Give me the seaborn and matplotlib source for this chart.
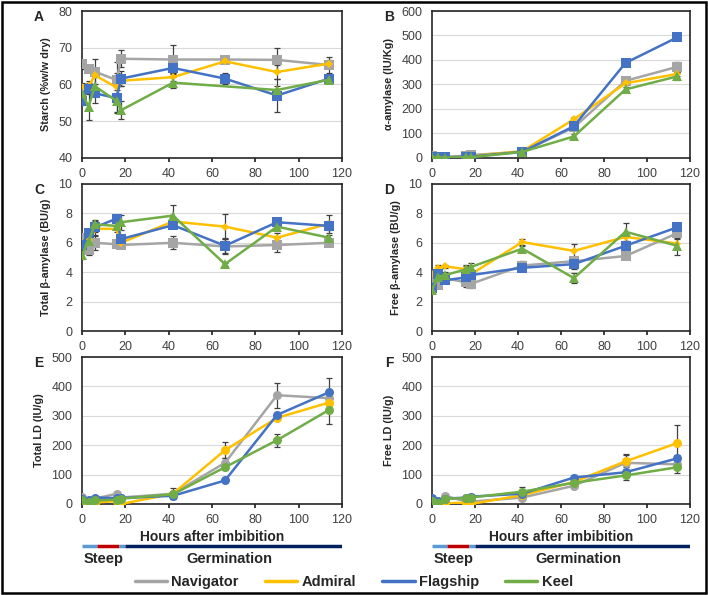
import numpy as np
import pandas as pd
import matplotlib
matplotlib.use('Agg')
import matplotlib.pyplot as plt
from matplotlib.lines import Line2D
from matplotlib.patches import Rectangle
import seaborn as sns

# ---------- DATA ----------
hours = [0, 3, 6, 16, 18, 42, 66, 90, 114]
varieties = ['Navigator', 'Admiral', 'Flagship', 'Keel']
nan = np.nan

starch_mean = {
    'Navigator': [65.5, 64.3, 63.5, 61.2, 67.0, 66.8, 66.8, 66.7, 65.3],
    'Admiral':   [59.3, 59.5, 62.5, 59.2, 61.0, 62.0, 66.3, 63.4, 65.7],
    'Flagship':  [55.5, 58.8, 57.6, 56.3, 61.6, 64.5, 61.6, 57.0, 61.6],
    'Keel':      [57.7, 54.0, 59.5, 55.5, 53.0, 60.5, nan, 58.5, 61.3],
}
starch_err = {
    'Navigator': [1.2, 0.8, 1.0, 5.0, 2.3, 4.0, 0.8, 3.3, 2.2],
    'Admiral':   [1.0, 1.5, 4.5, 4.0, 1.5, 1.0, 0.5, 2.0, 1.0],
    'Flagship':  [1.0, 1.5, 2.5, 4.0, 2.0, 1.5, 1.5, 4.5, 1.0],
    'Keel':      [2.0, 3.7, 2.5, 3.0, 2.5, 1.5, nan, 1.0, 0.5],
}
aamy_mean = {
    'Navigator': [8, 6, 4, 10, 12, 25, 125, 315, 372],
    'Admiral':   [5, 4, 3, 5, 8, 28, 158, 305, 343],
    'Flagship':  [5, 4, 3, 5, 6, 25, 130, 388, 492],
    'Keel':      [4, 3, 2, 3, 3, 25, 88, 280, 333],
}
aamy_err = {
    'Navigator': [2, 2, 2, 2, 2, 3, 8, 10, 20],
    'Admiral':   [1, 1, 1, 1, 1, 3, 8, 8, 10],
    'Flagship':  [1, 1, 1, 1, 1, 3, 5, 8, 8],
    'Keel':      [1, 1, 1, 1, 1, 3, 10, 8, 15],
}
tbamy_mean = {
    'Navigator': [6.3, 5.5, 6.0, 5.9, 5.85, 6.0, 5.75, 5.85, 6.0],
    'Admiral':   [6.0, 6.2, 6.95, 6.95, 6.0, 7.45, 7.1, 6.35, 7.3],
    'Flagship':  [5.85, 6.7, 7.05, 7.65, 6.25, 7.2, 5.8, 7.4, 7.15],
    'Keel':      [5.2, 6.1, 7.25, 7.15, 7.4, 7.85, 4.55, 7.1, 6.35],
}
tbamy_err = {
    'Navigator': [0.3, 0.3, 0.5, 0.2, 0.2, 0.45, 0.5, 0.45, 0.2],
    'Admiral':   [0.2, 0.3, 0.5, 0.2, 0.2, 0.3, 0.85, 0.3, 0.6],
    'Flagship':  [0.3, 0.2, 0.3, 0.2, 0.3, 0.2, 0.5, 0.2, 0.3],
    'Keel':      [0.3, 0.3, 0.3, 0.3, 0.5, 0.7, 0.1, 0.3, 0.2],
}
fbamy_mean = {
    'Navigator': [3.3, 3.1, 3.6, 3.3, 3.2, 4.45, 4.75, 5.1, 6.65],
    'Admiral':   [3.9, 4.3, 4.4, 4.2, 3.85, 6.05, 5.45, 6.4, 5.95],
    'Flagship':  [2.9, 3.9, 3.45, 3.65, 3.8, 4.3, 4.55, 5.8, 7.05],
    'Keel':      [2.8, 3.7, 3.8, 4.2, 4.35, 5.6, 3.6, 6.75, 5.8],
}
fbamy_err = {
    'Navigator': [0.3, 0.2, 0.3, 0.3, 0.3, 0.3, 0.3, 0.1, 0.3],
    'Admiral':   [0.2, 0.2, 0.1, 0.2, 0.2, 0.2, 0.5, 0.3, 0.3],
    'Flagship':  [0.2, 0.2, 0.2, 0.2, 0.2, 0.2, 0.3, 0.2, 0.2],
    'Keel':      [0.2, 0.2, 0.2, 0.3, 0.3, 0.2, 0.35, 0.6, 0.6],
}
tld_mean = {
    'Navigator': [25, 10, 18, 35, 22, 35, 140, 370, 360],
    'Admiral':   [10, 0, 5, 10, 0, 35, 183, 293, 345],
    'Flagship':  [18, 12, 22, 20, 20, 28, 80, 303, 380],
    'Keel':      [15, 8, 12, 15, 18, 33, 125, 217, 320],
}
tld_err = {
    'Navigator': [5, 5, 5, 5, 5, 18, 15, 42, 10],
    'Admiral':   [3, 3, 3, 3, 3, 5, 28, 5, 10],
    'Flagship':  [3, 3, 3, 3, 3, 3, 5, 5, 48],
    'Keel':      [3, 3, 3, 3, 3, 5, 10, 22, 48],
}
fld_mean = {
    'Navigator': [12, 2, 28, 8, 8, 22, 62, 140, 135],
    'Admiral':   [10, 2, 2, 5, 0, 30, 75, 145, 207],
    'Flagship':  [22, 10, 18, 22, 25, 35, 90, 108, 155],
    'Keel':      [10, 5, 18, 20, 22, 42, 72, 97, 125],
}
fld_err = {
    'Navigator': [5, 5, 5, 5, 5, 5, 5, 30, 10],
    'Admiral':   [3, 3, 3, 3, 3, 5, 5, 20, 62],
    'Flagship':  [5, 5, 5, 10, 10, 5, 8, 8, 10],
    'Keel':      [3, 3, 3, 3, 3, 15, 5, 17, 20],
}

# steeping / germination phases (start hour, end hour, colour)
phases = [(0, 7, '#5B9BD5'), (7, 17, '#C00000'), (17, 20, '#5B9BD5'), (20, 120, '#002060')]

# ---------- STYLE ----------
sns.set_theme(style='white')
plt.rcParams['font.family'] = ['Liberation Sans Narrow', 'Liberation Sans', 'DejaVu Sans']
colors = {'Navigator': '#A5A5A5', 'Admiral': '#FFC000', 'Flagship': '#4472C4', 'Keel': '#70AD47'}
sq_markers = {'Navigator': 's', 'Admiral': 'D', 'Flagship': 's', 'Keel': '^'}
sq_sizes = {'Navigator': 6.5, 'Admiral': 4.5, 'Flagship': 6.5, 'Keel': 6.5}
circ_markers = {v: 'o' for v in varieties}
circ_sizes = {v: 6.5 for v in varieties}

panels = [
    ('A', starch_mean, starch_err, 'Starch (%w/w dry)', (40, 80), 10, sq_markers, sq_sizes),
    ('B', aamy_mean, aamy_err, 'α-amylase (IU/Kg)', (0, 600), 100, sq_markers, sq_sizes),
    ('C', tbamy_mean, tbamy_err, 'Total β-amylase (BU/g)', (0, 10), 2, sq_markers, sq_sizes),
    ('D', fbamy_mean, fbamy_err, 'Free β-amylase (BU/g)', (0, 10), 2, sq_markers, sq_sizes),
    ('E', tld_mean, tld_err, 'Total LD (IU/g)', (0, 500), 100, circ_markers, circ_sizes),
    ('F', fld_mean, fld_err, 'Free LD (IU/g)', (0, 500), 100, circ_markers, circ_sizes),
]

W, H = 708, 595
fig = plt.figure(figsize=(W / 100, H / 100), dpi=100)

col_left = [82, 432]
col_width = [260, 258]
row_top = [11, 184, 357]
row_h = 147

for i, (letter, means, errs, ylabel, ylim, ystep, markers, msizes) in enumerate(panels):
    r, c = divmod(i, 2)
    ax = fig.add_axes([col_left[c] / W, 1 - (row_top[r] + row_h) / H, col_width[c] / W, row_h / H])
    for v in varieties:
        df = pd.DataFrame({'hours': hours, 'value': means[v], 'err': errs[v]}).dropna()
        ax.errorbar(df['hours'], df['value'], yerr=df['err'], fmt='none',
                    ecolor='#404040', elinewidth=0.9, capsize=2.5, capthick=0.9, zorder=2)
        sns.lineplot(data=df, x='hours', y='value', color=colors[v], marker=markers[v],
                     markersize=msizes[v], markeredgewidth=0, linewidth=1.8, ax=ax, zorder=3)
    ax.set_xlim(0, 120)
    ax.set_ylim(*ylim)
    ax.set_xticks(range(0, 121, 20))
    ax.set_yticks(np.arange(ylim[0], ylim[1] + 0.01, ystep))
    ax.grid(axis='y', color='#D9D9D9', linewidth=0.8)
    ax.set_axisbelow(True)
    for s in ax.spines.values():
        s.set_color('#262626')
        s.set_linewidth(1.2)
    ax.tick_params(labelsize=9, colors='#404040', length=3, left=False, bottom=True, pad=4)
    ax.tick_params(axis='x', direction='out', length=3, color='#262626')
    ax.set_ylabel(ylabel, fontsize=7.8, fontweight='bold', color='#262626', labelpad=5)
    ax.set_xlabel('')
    ax.text(-0.165, 1.01, letter, transform=ax.transAxes, fontsize=10, fontweight='bold',
            ha='center', va='top', color='#262626')
    if r == 2:
        ax.set_xlabel('Hours after imbibition', fontsize=10, fontweight='bold',
                      color='#262626', labelpad=3)
        # steep / germination bar below the panel
        bx = fig.add_axes([col_left[c] / W, 1 - 554 / H, col_width[c] / W, 10 / H])
        bx.set_xlim(0, 120)
        bx.set_ylim(0, 1)
        bx.axis('off')
        for start, end, col in phases:
            bx.plot([start, end], [0.8, 0.8], color=col, linewidth=2.5, solid_capstyle='butt')
        bx.text(10, -0.5, 'Steep', fontsize=10.5, fontweight='bold', ha='center', va='center',
                color='#262626')
        bx.text(68, -0.5, 'Germination', fontsize=10.5, fontweight='bold', ha='center',
                va='center', color='#262626')

# ---------- LEGEND ----------
handles = [Line2D([0], [0], color=colors[v], linewidth=2.5) for v in varieties]
leg = fig.legend(handles, varieties, loc='center', bbox_to_anchor=(0.5, 1 - 582 / H), ncol=4,
                 frameon=False, fontsize=10.5, handlelength=2.2, handletextpad=0.3,
                 columnspacing=1.8)
for t in leg.get_texts():
    t.set_fontweight('bold')
    t.set_color('#262626')

# outer border
fig.patches.append(Rectangle((2 / W, 2 / H), 1 - 4 / W, 1 - 4 / H, transform=fig.transFigure,
                             fill=False, edgecolor='black', linewidth=1.8))

fig.savefig('out.png', dpi=100)
